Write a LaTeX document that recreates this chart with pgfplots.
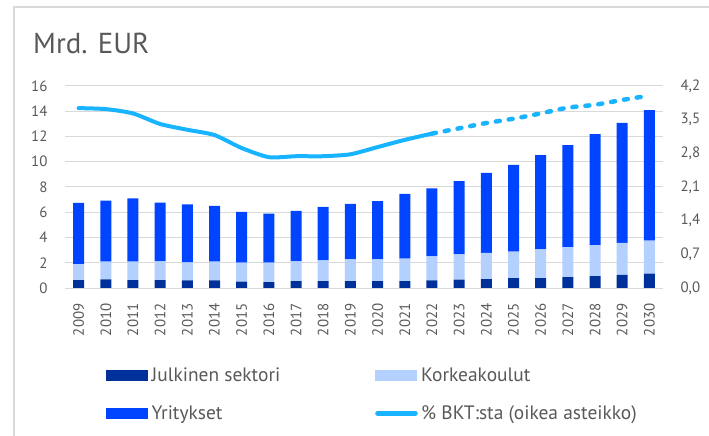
\documentclass[border=0pt]{standalone}
\usepackage{fontspec}
\setmainfont{PT Sans}
\usepackage{pgfplots}
\usepackage{pgfplotstable}
\pgfplotsset{compat=1.18}
\definecolor{cDark}{RGB}{0,48,154}
\definecolor{cMid}{RGB}{0,68,255}
\definecolor{cLight}{RGB}{179,208,255}
\definecolor{cLine}{RGB}{24,180,255}
\definecolor{cText}{RGB}{89,89,89}
\definecolor{cGrid}{RGB}{217,217,217}

\pgfplotstableread{
x year J K Y
0 2009 0.63 1.26 4.85
1 2010 0.68 1.40 4.84
2 2011 0.63 1.45 5.02
3 2012 0.63 1.47 4.66
4 2013 0.60 1.43 4.60
5 2014 0.60 1.48 4.42
6 2015 0.50 1.50 4.03
7 2016 0.47 1.53 3.89
8 2017 0.55 1.55 4.00
9 2018 0.55 1.63 4.24
10 2019 0.55 1.71 4.41
11 2020 0.55 1.71 4.63
12 2021 0.55 1.77 5.13
13 2022 0.60 1.90 5.39
14 2023 0.66 2.00 5.81
15 2024 0.71 2.08 6.32
16 2025 0.79 2.10 6.87
17 2026 0.79 2.26 7.48
18 2027 0.87 2.37 8.08
19 2028 0.95 2.44 8.79
20 2029 1.03 2.55 9.50
21 2030 1.13 2.63 10.32
}\bars

\pgfplotstableread{
x pct
0 3.74
1 3.72
2 3.63
3 3.41
4 3.29
5 3.18
6 2.91
7 2.72
8 2.74
9 2.74
10 2.78
11 2.93
12 3.08
13 3.21
}\actual

\pgfplotstableread{
x pct
13 3.21
14 3.32
15 3.43
16 3.52
17 3.63
18 3.75
19 3.81
20 3.91
21 4.00
}\forecast

\begin{document}
\begin{tikzpicture}
\path[use as bounding box] (0bp,0bp) rectangle (709bp,436bp);
\draw[cGrid, line width=1.5bp] (14bp,0bp) -- (14bp,429bp) -- (709bp,429bp);
\node[anchor=base west, inner sep=0pt, text=cText, font=\fontsize{29}{32}\selectfont] at (33bp,382bp) {Mrd. EUR};

\begin{axis}[
  at={(65bp,148bp)}, anchor=south west,
  scale only axis, width=598bp, height=202bp,
  xmin=-0.5, xmax=21.5, ymin=0, ymax=16,
  ytick={0,2,...,16},
  xtick={0,...,21},
  xticklabels={2009,2010,2011,2012,2013,2014,2015,2016,2017,2018,2019,2020,2021,2022,2023,2024,2025,2026,2027,2028,2029,2030},
  x tick label style={rotate=90, anchor=east, xshift=-12bp},
  y tick label style={xshift=-14bp},
  tick label style={font=\fontsize{15}{17}\selectfont, text=cText},
  /pgf/number format/assume math mode=true,
  ymajorgrids, grid style={cGrid, line width=1bp},
  axis line style={draw=none},
  major tick length=0pt,
  ybar stacked, bar width=11bp,
  legend columns=2,
  legend cell align=left,
  legend style={at={(0.0686,-0.385)}, anchor=north west, draw=none, fill=none,
    inner sep=0pt, row sep=20bp,
    font=\fontsize{19.5}{21}\selectfont, text=cText,
    nodes={inner sep=1.5bp}},
]
\addplot[fill=cDark, draw=none, legend image code/.code={\fill[cDark] (0bp,-5.5bp) rectangle (42bp,5.5bp);}] table[x=x,y=J] {\bars};
\addlegendentry{\hspace{2bp}\makebox[222bp][l]{Julkinen sektori}}
\addplot[fill=cLight, draw=none, legend image code/.code={\fill[cLight] (0bp,-5.5bp) rectangle (42bp,5.5bp);}] table[x=x,y=K] {\bars};
\addlegendentry{\hspace{2bp}Korkeakoulut}
\addplot[fill=cMid, draw=none, legend image code/.code={\fill[cMid] (0bp,-5.5bp) rectangle (42bp,5.5bp);}] table[x=x,y=Y] {\bars};
\addlegendentry{\hspace{2bp}\makebox[222bp][l]{Yritykset}}
\addlegendimage{legend image code/.code={\draw[cLine, line width=4.5bp, line cap=round] (2bp,0bp) -- (40bp,0bp);}}
\addlegendentry{\hspace{2bp}\% BKT:sta (oikea asteikko)}
\end{axis}

\begin{axis}[
  at={(65bp,148bp)}, anchor=south west,
  scale only axis, width=598bp, height=202bp,
  xmin=-0.5, xmax=21.5, ymin=0, ymax=4.2,
  axis y line*=right, axis x line=none,
  ytick={0,0.7,1.4,2.1,2.8,3.5,4.2},
  y tick label style={xshift=14bp, font=\fontsize{15}{17}\selectfont, text=cText},
  /pgf/number format/.cd, fixed, fixed zerofill, precision=1, use comma, assume math mode=true,
  /pgfplots/.cd,
  axis line style={draw=none},
  major tick length=0pt,
]
\addplot[cLine, line width=4bp, smooth, tension=0.4, line cap=round, mark=none] table[x=x,y=pct] {\actual};
\addplot[cLine, line width=4.5bp, smooth, tension=0.4, line cap=round, dash pattern=on 4bp off 9bp, mark=none] table[x=x,y=pct] {\forecast};
\end{axis}
\end{tikzpicture}
\end{document}
